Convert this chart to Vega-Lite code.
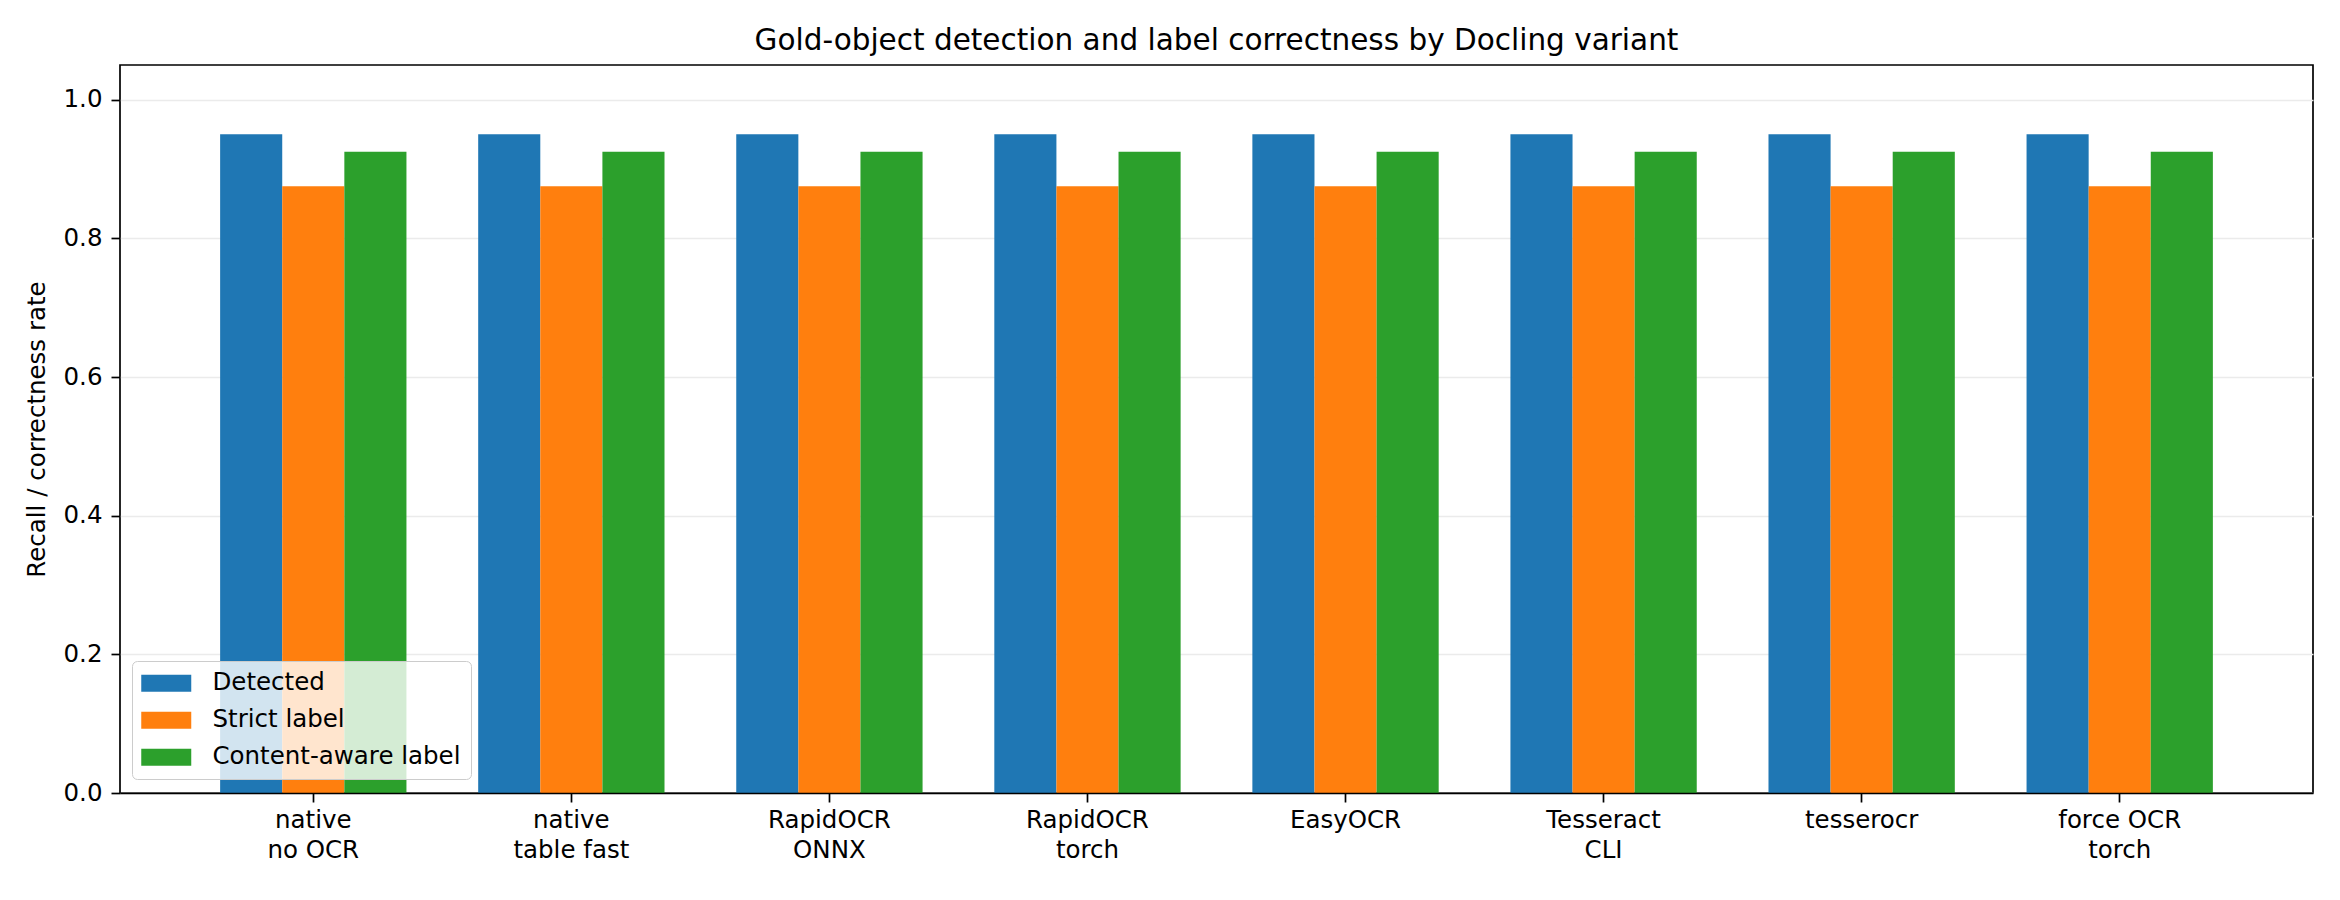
{
  "$schema": "https://vega.github.io/schema/vega-lite/v6.json",
  "width": 2193,
  "height": 728,
  "autosize": {"type": "none"},
  "padding": {"left": 120, "top": 65, "right": 27, "bottom": 107},
  "background": "white",
  "title": {
    "text": "Gold-object detection and label correctness by Docling variant",
    "font": "DejaVu Sans",
    "fontSize": 29.5,
    "fontWeight": "normal",
    "color": "black",
    "anchor": "middle",
    "offset": 9
  },
  "data": {
    "values": [
      {"variant": "native|no OCR", "series": "Detected", "rate": 0.95},
      {"variant": "native|no OCR", "series": "Strict label", "rate": 0.875},
      {"variant": "native|no OCR", "series": "Content-aware label", "rate": 0.925},
      {"variant": "native|table fast", "series": "Detected", "rate": 0.95},
      {"variant": "native|table fast", "series": "Strict label", "rate": 0.875},
      {"variant": "native|table fast", "series": "Content-aware label", "rate": 0.925},
      {"variant": "RapidOCR|ONNX", "series": "Detected", "rate": 0.95},
      {"variant": "RapidOCR|ONNX", "series": "Strict label", "rate": 0.875},
      {"variant": "RapidOCR|ONNX", "series": "Content-aware label", "rate": 0.925},
      {"variant": "RapidOCR|torch", "series": "Detected", "rate": 0.95},
      {"variant": "RapidOCR|torch", "series": "Strict label", "rate": 0.875},
      {"variant": "RapidOCR|torch", "series": "Content-aware label", "rate": 0.925},
      {"variant": "EasyOCR", "series": "Detected", "rate": 0.95},
      {"variant": "EasyOCR", "series": "Strict label", "rate": 0.875},
      {"variant": "EasyOCR", "series": "Content-aware label", "rate": 0.925},
      {"variant": "Tesseract|CLI", "series": "Detected", "rate": 0.95},
      {"variant": "Tesseract|CLI", "series": "Strict label", "rate": 0.875},
      {"variant": "Tesseract|CLI", "series": "Content-aware label", "rate": 0.925},
      {"variant": "tesserocr", "series": "Detected", "rate": 0.95},
      {"variant": "tesserocr", "series": "Strict label", "rate": 0.875},
      {"variant": "tesserocr", "series": "Content-aware label", "rate": 0.925},
      {"variant": "force OCR|torch", "series": "Detected", "rate": 0.95},
      {"variant": "force OCR|torch", "series": "Strict label", "rate": 0.875},
      {"variant": "force OCR|torch", "series": "Content-aware label", "rate": 0.925}
    ]
  },
  "mark": {"type": "bar"},
  "encoding": {
    "x": {
      "field": "variant",
      "type": "nominal",
      "sort": null,
      "scale": {"paddingInner": 0.278, "paddingOuter": 0.388},
      "axis": {
        "title": null,
        "labelAngle": 0,
        "labelExpr": "split(datum.value, '|')",
        "labelFont": "DejaVu Sans",
        "labelFontSize": 24.5,
        "labelColor": "black",
        "labelLineHeight": 30,
        "labelPadding": 6,
        "tickSize": 9,
        "tickWidth": 1.7,
        "tickColor": "black",
        "domainColor": "black",
        "domainWidth": 1.7,
        "zindex": 1
      }
    },
    "xOffset": {
      "field": "series",
      "type": "nominal",
      "sort": ["Detected", "Strict label", "Content-aware label"],
      "scale": {"paddingInner": 0, "paddingOuter": 0}
    },
    "y": {
      "field": "rate",
      "type": "quantitative",
      "scale": {"domain": [0, 1.05], "nice": false},
      "axis": {
        "title": "Recall / correctness rate",
        "titleFont": "DejaVu Sans",
        "titleFontSize": 24.5,
        "titleFontWeight": "normal",
        "titleColor": "black",
        "titlePadding": 14,
        "values": [0, 0.2, 0.4, 0.6, 0.8, 1.0],
        "format": ".1f",
        "labelFont": "DejaVu Sans",
        "labelFontSize": 24.5,
        "labelColor": "black",
        "labelPadding": 9,
        "tickSize": 9,
        "tickWidth": 1.7,
        "tickColor": "black",
        "domain": false,
        "grid": true,
        "gridColor": "#ebebeb",
        "gridWidth": 1.5
      }
    },
    "color": {
      "field": "series",
      "type": "nominal",
      "sort": ["Detected", "Strict label", "Content-aware label"],
      "scale": {
        "domain": ["Detected", "Strict label", "Content-aware label"],
        "range": ["#1f77b4", "#ff7f0e", "#2ca02c"]
      },
      "legend": {
        "title": null,
        "orient": "none",
        "legendX": 12,
        "legendY": 596,
        "symbolType": "M-2.5,-0.85L2.5,-0.85L2.5,0.85L-2.5,0.85Z",
        "symbolSize": 400,
        "symbolStrokeWidth": 0,
        "symbolOpacity": 1,
        "symbolOffset": 12,
        "labelFont": "DejaVu Sans",
        "labelFontSize": 24.5,
        "labelColor": "black",
        "labelOffset": 34,
        "labelLimit": 500,
        "rowPadding": 12,
        "padding": 10,
        "fillColor": "rgba(255,255,255,0.8)",
        "strokeColor": "#cccccc",
        "cornerRadius": 5
      }
    }
  },
  "config": {
    "view": {"stroke": "black", "strokeWidth": 1.7},
    "axis": {"grid": false}
  }
}
